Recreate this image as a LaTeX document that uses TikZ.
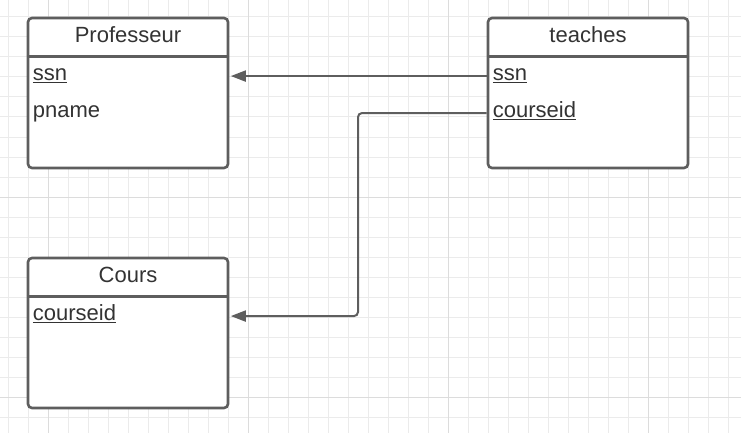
\documentclass[tikz,border=0pt]{standalone}
\usepackage{fontspec}
\setmainfont{Liberation Sans}
\usepackage{xcolor}
\usepackage{tikz}
\usetikzlibrary{arrows.meta,positioning,calc}

\definecolor{linegray}{HTML}{5E5E5E}
\definecolor{textgray}{HTML}{333333}
\definecolor{minorgrid}{HTML}{EBEBEB}
\definecolor{majorgrid}{HTML}{DCDCDC}

\begin{document}
\begin{tikzpicture}[
    x=1pt, y=-1pt,
    entity/.style={rectangle, rounded corners=4pt, draw=linegray, line width=2.6pt,
                   fill=white, minimum width=200pt, minimum height=150pt, inner sep=0pt},
    title/.style={anchor=base, text=textgray, inner sep=0pt,
                  font=\fontsize{22}{26}\selectfont},
    attr/.style={anchor=base west, text=textgray, inner sep=0pt,
                 font=\fontsize{22}{26}\selectfont},
    sep/.style={draw=linegray, line width=2.6pt},
    link/.style={-{Triangle[length=15pt,width=11pt]}, line width=2pt, draw=linegray,
                 shorten >=1.5pt}
]
\useasboundingbox (0,0) rectangle (741,433);

% grid
\foreach \gx in {8,28,...,740} \draw[minorgrid, line width=1pt] (\gx,0) -- (\gx,433);
\foreach \gy in {17,37,...,433} \draw[minorgrid, line width=1pt] (0,\gy) -- (741,\gy);
\foreach \gx in {48,248,448,648} \draw[majorgrid, line width=1pt] (\gx,0) -- (\gx,433);
\foreach \gy in {197,397} \draw[majorgrid, line width=1pt] (0,\gy) -- (741,\gy);

% tables
\node[entity] (prof) at (128,93) {};
\node[entity] (teach) at (588,93) {};
\node[entity] (cours) at (128,333) {};

\foreach \t in {prof,teach,cours}
  \draw[sep] ([yshift=-40pt]\t.north west) -- ([yshift=-40pt]\t.north east);

\node[title] (proft) at ([yshift=-26pt]prof.north) {Professeur};
\node[title] (teacht) at ([yshift=-26pt]teach.north) {teaches};
\node[title] (courst) at ([yshift=-26pt]cours.north) {Cours};

\node[attr] (pssn) at ([shift={(6,64)}]prof.north west) {\underline{ssn}};
\node[attr] (pname) at ([shift={(6,101)}]prof.north west) {pname};
\node[attr] (tssn) at ([shift={(6,64)}]teach.north west) {\underline{ssn}};
\node[attr] (tcid) at ([shift={(6,101)}]teach.north west) {\underline{courseid}};
\node[attr] (ccid) at ([shift={(6,64)}]cours.north west) {\underline{courseid}};

% references
\coordinate (yssn) at ([yshift=2pt]tssn.mid);
\coordinate (ytcid) at ([yshift=2pt]tcid.mid);
\coordinate (yccid) at ([yshift=2pt]ccid.mid);
\coordinate (elbow) at (358,113);
\draw[link] (teach.west |- yssn) -- (prof.east |- yssn);
\draw[link, rounded corners=4pt] (teach.west |- ytcid) -- (elbow |- ytcid)
    |- (cours.east |- yccid);

\end{tikzpicture}
\end{document}
